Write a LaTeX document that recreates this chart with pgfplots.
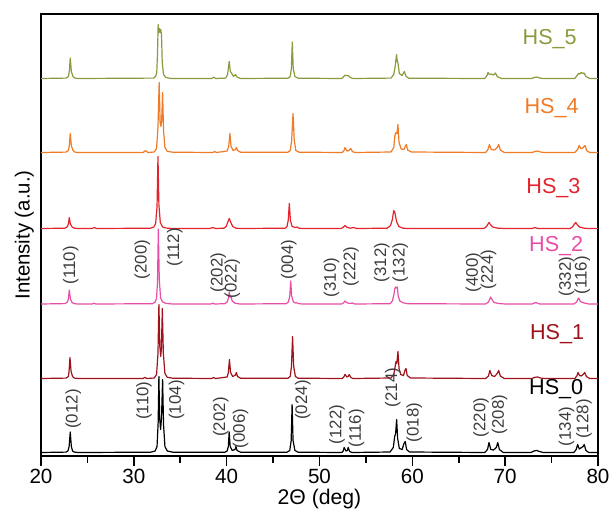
\documentclass[border=0pt]{standalone}
\usepackage{fontspec}
\setmainfont{Liberation Sans}
\usepackage{pgfplots}
\pgfplotsset{compat=1.18}

\definecolor{hsfive}{RGB}{140,154,62}
\definecolor{hsfour}{RGB}{240,123,38}
\definecolor{hsthree}{RGB}{228,35,45}
\definecolor{hstwo}{RGB}{232,78,166}
\definecolor{hsone}{RGB}{158,18,28}
\definecolor{labgray}{RGB}{60,60,60}

\tikzset{
  plab/.style={rotate=90, anchor=west, inner sep=0pt, text=labgray, font=\fontsize{8.4}{9}\selectfont},
  hslab/.style={anchor=center, inner sep=0pt, font=\fontsize{10.8}{12}\selectfont},
}

\begin{document}
\begin{tikzpicture}
\path[use as bounding box] (-20.5pt,-26.5pt) rectangle (285pt,228pt);
\begin{axis}[
  scale only axis,
  width=278.5pt, height=221pt,
  xmin=20, xmax=80, ymin=0, ymax=442,
  xtick={20,30,...,80},
  minor xtick={25,35,...,75},
  xtick pos=bottom,
  ytick=\empty,
  tick align=outside,
  major tick length=5pt,
  minor tick length=3.3pt,
  axis line style={line width=0.8pt},
  every tick/.style={line width=0.8pt, black},
  ticklabel style={font=\fontsize{10.3}{12}\selectfont, inner sep=1.5pt},
  /pgf/number format/assume math mode=true,
  xlabel={2Θ (deg)},
  ylabel={Intensity (a.u.)},
  xlabel style={at={(axis description cs:0.5,0)}, anchor=north, inner sep=0pt, yshift=-16.5pt, font=\fontsize{10.6}{12}\selectfont},
  ylabel style={at={(axis description cs:-0.012,0.5)}, anchor=south, inner sep=0pt, font=\fontsize{10.2}{12}\selectfont},
  clip=false,
  every axis plot/.append style={line width=0.6pt, line join=round},
]

% HS_5
\addplot[hsfive] table[y expr=\thisrow{y}+377.5] {
x y
20 0
22.7 0.4
22.95 2
23.05 7
23.15 20.5
23.27 7
23.45 2
23.65 0.4
24 0
32.1 0.4
32.35 2
32.47 6
32.55 25
32.62 54
32.68 46
32.75 50
32.82 46
32.9 49
32.98 44
33.06 16
33.2 4
33.45 1
34.0 0
38.4 0
38.6 1.5
38.8 0
39.9 0.4
40.1 4
40.27 17
40.4 7
40.55 5
40.75 2
40.95 4
41.1 1.5
41.5 0
46.6 0.3
46.85 2
46.97 10
47.07 36.5
47.17 10
47.35 2
47.7 0.3
52.4 0
52.6 2
52.75 3.3
52.95 2.8
53.1 3
53.3 1
53.6 0
57.7 0.4
58.0 4
58.15 12
58.3 24
58.38 17
58.45 16
58.6 5
58.9 3
59.05 5.5
59.14 7
59.3 2.5
59.6 0.3
67.8 0
68.05 3
68.15 6
68.3 4
68.45 4.5
68.6 4
68.75 3.5
68.95 5.5
69.15 2
69.6 0
72.9 0
73.1 1
73.4 1.5
73.7 0.5
74.1 0
77.5 0
77.75 3
77.9 5
78.05 4.5
78.2 6
78.35 5
78.5 5.5
78.7 2
79.1 0
80 0
};

% HS_4
\addplot[hsfour] table[y expr=\thisrow{y}+303.5] {
x y
20 0
22.7 0.4
22.95 2
23.05 7
23.15 19
23.27 7
23.45 2
23.65 0.4
24 0
31.0 0
31.26 2
31.5 0
32.2 0.5
32.45 4
32.6 25
32.73 70
32.83 30
32.92 26
33.0 32
33.1 60
33.2 22
33.35 5
33.6 1.2
34.2 0.3
38.5 0
38.7 1
38.9 0
40.05 1.5
40.22 6
40.35 19
40.47 6
40.7 2
40.95 3
41.05 5
41.17 2
41.5 0.3
46.6 0.3
46.85 2
47.0 12
47.15 39
47.28 12
47.45 2
47.8 0.3
52.45 0
52.62 1.5
52.75 5
52.95 1.5
53.15 2
53.35 4
53.55 1
53.8 0
57.7 0.5
58.0 5
58.12 17
58.25 20
58.35 19
58.45 28
58.57 10
58.8 3.5
59.1 3
59.25 6.5
59.35 8
59.5 2.5
59.9 0.5
67.9 0
68.15 3
68.3 8
68.5 3
68.85 2.5
69.15 5
69.3 8
69.48 2.5
69.9 0
72.9 0
73.2 1
73.5 1.5
73.8 0.5
74.2 0
77.5 0
77.8 3
77.98 7
78.15 4
78.3 4
78.45 5.5
78.6 7
78.78 2
79.1 0
80 0
};

% HS_3
\addplot[hsthree] table[y expr=\thisrow{y}+227.5] {
x y
20 0
22.6 0.3
22.85 2
22.95 4.5
23.05 11
23.16 4.5
23.35 1.5
23.6 0.3
24 0
25.5 0
25.75 1
26.0 0
31.8 0.3
32.15 1.5
32.35 5
32.5 22
32.6 72
32.7 24
32.85 6
33.1 1.5
33.5 0.4
34.2 0
38.2 0
38.5 1
38.8 0
39.7 0.3
39.95 2
40.1 6
40.28 10
40.45 6
40.65 2
41.0 0.3
41.5 0
46.3 0.3
46.5 2
46.63 8
46.75 25
46.87 8
47.05 2
47.4 1
47.6 1.5
47.8 0.3
48.2 0
52.35 0
52.55 1.2
52.75 3
52.95 1.2
53.3 0.3
53.7 1
54.0 0
57.3 0.3
57.65 3
57.85 9
58.0 18
58.12 16
58.3 7
58.55 2
59.0 0.3
59.5 0
67.7 0
68.0 2
68.15 4.5
68.26 6
68.4 4
68.65 1.5
69.2 0.3
70 0
72.9 0
73.2 1
73.5 0
77.0 0
77.3 2
77.5 5
77.6 6
77.75 4
78.0 1.5
78.5 0.3
79 0
80 0
};

% HS_2
\addplot[hstwo] table[y expr=\thisrow{y}+152] {
x y
20 0
22.6 0.4
22.85 2
22.95 5
23.05 14
23.17 5
23.35 1.5
23.6 0.3
24 0
25.5 0
25.7 0.8
25.9 0
32.0 0.3
32.3 2
32.45 6
32.55 22
32.64 75
32.74 25
32.88 6
33.1 2
33.5 0.5
34.2 0
38.3 0
38.5 0.8
38.7 0
39.8 0.3
40.05 2
40.17 5
40.28 12
40.37 7
40.47 7
40.6 3
40.9 0.8
41.4 0
46.4 0.3
46.65 2
46.8 8
46.9 23
47.0 8
47.2 2
47.4 1
47.55 1.2
47.8 0.3
48.2 0
52.4 0
52.6 1.2
52.75 3
52.95 1.2
53.3 0.5
53.55 1
53.8 0
57.6 0.3
57.85 3
58.03 10
58.1 15
58.2 17
58.3 16
58.38 17
58.48 8
58.65 3
59.0 1.2
59.5 0.3
67.9 0
68.2 2
68.35 5
68.44 7
68.55 5
68.8 1.5
69.3 0.5
70 0
72.9 0
73.3 1.5
73.7 0
77.4 0
77.7 2
77.9 6
78.1 2.5
78.5 1
79 0
80 0
};

% HS_1
\addplot[hsone] table[y expr=\thisrow{y}+77.5] {
x y
20 0
22.7 0.4
22.95 2
23.02 7
23.12 21
23.24 7
23.4 2
23.6 0.4
24 0
31 0
31.2 1.2
31.4 0
32.2 0.5
32.45 4
32.6 25
32.7 74
32.8 32
32.9 22
32.97 30
33.07 70
33.18 25
33.35 5
33.6 1.2
34.2 0.3
38.4 0
38.6 1
38.8 0
40.05 1.5
40.18 6
40.3 19
40.42 6
40.65 2
40.95 3.5
41.05 6
41.17 2
41.5 0.3
46.6 0.3
46.85 2
46.98 12
47.1 42
47.22 12
47.4 2
47.7 0.3
52.45 0
52.62 1.5
52.75 4
52.95 1.5
53.08 2
53.2 4
53.38 1
53.6 0
57.7 0.5
58.0 4
58.15 12
58.25 17
58.33 15
58.45 27
58.57 10
58.75 4
59.05 3
59.2 8
59.32 10
59.45 3
59.8 0.5
67.9 0
68.2 2.5
68.35 8
68.55 3
68.85 2
69.15 5
69.3 8
69.48 2.5
69.9 0
72.9 0
73.2 1.2
73.5 1.5
73.8 0.5
74.2 0
77.5 0
77.72 2.5
77.85 6
78.0 3
78.2 2.5
78.45 4.5
78.57 6
78.75 2
79.1 0
80 0
};

% HS_0
\addplot[black] table[y expr=\thisrow{y}+3.5] {
x y
20 0
22.7 0.4
22.9 1.5
23.03 6
23.15 20.5
23.27 6
23.4 1.5
23.6 0.4
24 0
31.8 0.3
32.3 1.5
32.5 6
32.62 30
32.7 76
32.78 35
32.88 23
32.98 34
33.1 73
33.2 28
33.35 6
33.6 1.5
34.2 0.3
39.8 0.2
40.05 1.5
40.18 6
40.27 20.5
40.38 6
40.6 2
40.9 3
41.0 6
41.12 2
41.5 0.3
46.5 0.3
46.8 2
46.95 12
47.05 48
47.15 12
47.35 2
47.7 0.3
52.4 0
52.55 1.5
52.66 5
52.85 1.5
53.0 2
53.09 5
53.25 1
53.5 0
57.6 0.5
57.95 5
58.1 16
58.2 19
58.31 33
58.42 14
58.6 4
58.9 3
59.1 9
59.24 11
59.38 3
59.7 0.5
67.8 0
68.1 3
68.26 10
68.45 3
68.75 2.5
69.05 5
69.2 10
69.38 3
69.8 0
72.8 0
73.1 1.5
73.4 2
73.7 1
74.1 0
77.4 0
77.65 3
77.81 8
77.98 3.5
78.15 4.5
78.4 6
78.52 8
78.7 2
79 0
80 0
};

% sample names
\node[hslab, text=hsfive] at (axis cs:74.8,417) {HS\_5};
\node[hslab, text=hsfour] at (axis cs:75.0,347.5) {HS\_4};
\node[hslab, text=hsthree] at (axis cs:75.2,268) {HS\_3};
\node[hslab, text=hstwo] at (axis cs:75.5,209.5) {HS\_2};
\node[hslab, text=hsone] at (axis cs:75.6,121.5) {HS\_1};
\node[hslab, text=black] at (axis cs:75.5,67) {HS\_0};

% reflections, HS_0
\node[plab] at (axis cs:23.48,27) {(012)};
\node[plab] at (axis cs:31.1,36) {(110)};
\node[plab] at (axis cs:34.6,36) {(104)};
\node[plab] at (axis cs:39.36,19) {(202)};
\node[plab] at (axis cs:41.5,7.5) {(006)};
\node[plab] at (axis cs:48.2,36) {(024)};
\node[plab] at (axis cs:51.9,11.5) {(122)};
\node[plab] at (axis cs:54.0,8.5) {(116)};
\node[plab] at (axis cs:57.9,48.5) {(214)};
\node[plab] at (axis cs:60.2,13.5) {(018)};
\node[plab] at (axis cs:67.4,18.5) {(220)};
\node[plab] at (axis cs:69.4,21.5) {(208)};
\node[plab] at (axis cs:76.6,9.5) {(134)};
\node[plab] at (axis cs:78.5,17) {(128)};

% reflections, HS_2
\node[plab] at (axis cs:23.2,171.5) {(110)};
\node[plab] at (axis cs:30.9,176.5) {(200)};
\node[plab] at (axis cs:34.4,189.5) {(112)};
\node[plab] at (axis cs:39.1,163.5) {(202)};
\node[plab] at (axis cs:40.6,157.5) {(022)};
\node[plab] at (axis cs:46.7,176.5) {(004)};
\node[plab] at (axis cs:51.3,158.5) {(310)};
\node[plab] at (axis cs:53.4,169.5) {(222)};
\node[plab] at (axis cs:56.7,173.5) {(312)};
\node[plab] at (axis cs:58.7,173.5) {(132)};
\node[plab] at (axis cs:66.6,163.5) {(400)};
\node[plab] at (axis cs:68.2,166.5) {(224)};
\node[plab] at (axis cs:76.6,159.5) {(332)};
\node[plab] at (axis cs:78.3,161.5) {(116)};

\end{axis}
\end{tikzpicture}
\end{document}
